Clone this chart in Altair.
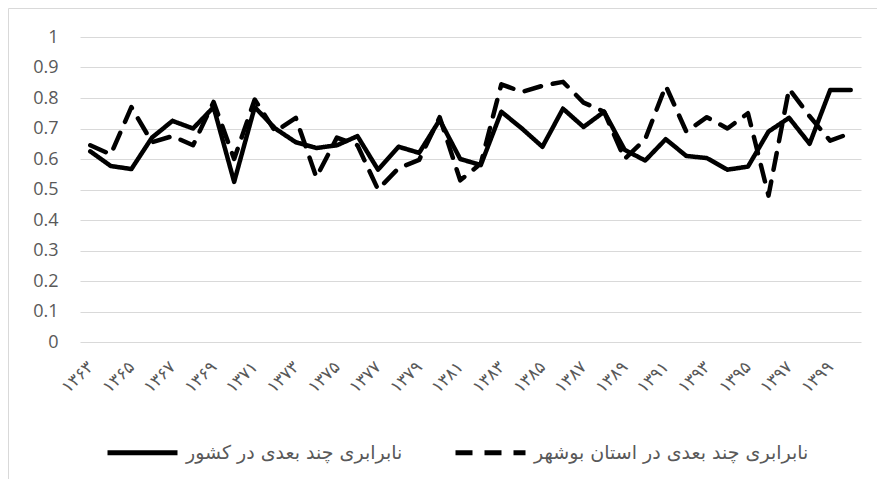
import altair as alt
import pandas as pd

years = [1363, 1364, 1365, 1366, 1367, 1368, 1369, 1370, 1371, 1372,
         1373, 1374, 1375, 1376, 1377, 1378, 1379, 1380, 1381, 1382,
         1383, 1384, 1385, 1386, 1387, 1388, 1389, 1390, 1391, 1392,
         1393, 1394, 1395, 1396, 1397, 1398, 1399, 1400]

national = [0.625, 0.577, 0.567, 0.67, 0.725, 0.70, 0.77, 0.525, 0.77, 0.70,
            0.655, 0.636, 0.645, 0.675, 0.565, 0.64, 0.62, 0.728, 0.60, 0.58,
            0.755, 0.70, 0.64, 0.765, 0.705, 0.755, 0.63, 0.595, 0.665, 0.61,
            0.603, 0.565, 0.575, 0.69, 0.735, 0.65, 0.826, 0.826]

bushehr = [0.645, 0.615, 0.77, 0.655, 0.675, 0.645, 0.787, 0.60, 0.795, 0.69,
           0.735, 0.54, 0.67, 0.645, 0.50, 0.57, 0.597, 0.737, 0.53, 0.585,
           0.845, 0.82, 0.84, 0.853, 0.785, 0.755, 0.60, 0.665, 0.84, 0.69,
           0.737, 0.70, 0.75, 0.48, 0.83, 0.74, 0.66, 0.685]

y_ticks = [0, 0.1, 0.2, 0.3, 0.4, 0.5, 0.6, 0.7, 0.8, 0.9, 1]

s1 = "نابرابری چند بعدی در کشور"
s2 = "نابرابری چند بعدی در استان بوشهر"

fa = str.maketrans("0123456789", "۰۱۲۳۴۵۶۷۸۹")
cats = [str(y).translate(fa) for y in years]
label_cats = cats[::2]

n = len(years)
df = pd.DataFrame({
    "year": cats + cats,
    "value": national + bushehr,
    "series": [s1] * n + [s2] * n,
})

W, H = 781, 305
GREY = "#595959"

lines = alt.Chart(df).mark_line(
    strokeWidth=4.5, strokeJoin="round", strokeCap="round", color="black"
).encode(
    x=alt.X("year:N", sort=cats,
            scale=alt.Scale(type="point", padding=0.5),
            axis=alt.Axis(values=label_cats, labelAngle=-45, labelAlign="right",
                          labelBaseline="middle", labelFont="DejaVu Sans",
                          labelFontSize=17, labelColor=GREY, ticks=False, domain=False,
                          grid=False, title=None, labelPadding=22)),
    y=alt.Y("value:Q", scale=alt.Scale(domain=[0, 1], nice=False),
            axis=alt.Axis(values=y_ticks, format="~g", labelFont="Open Sans",
                          labelFontSize=18, labelColor=GREY, ticks=False, domain=False,
                          grid=True, gridColor="#d9d9d9", gridWidth=1.2,
                          title=None, labelPadding=22)),
    strokeDash=alt.StrokeDash(
        "series:N",
        scale=alt.Scale(domain=[s1, s2], range=[[1, 0], [17, 12]]),
        legend=alt.Legend(orient="none", legendX=25, legendY=378, direction="horizontal",
                          title=None, symbolType="stroke", symbolSize=4900,
                          symbolStrokeWidth=5, symbolStrokeColor="black",
                          labelFont="DejaVu Sans", labelFontSize=19, labelColor=GREY,
                          columnPadding=42, labelOffset=6, labelLimit=500),
    ),
)

frame = alt.Chart(pd.DataFrame({"a": [0]})).mark_rect(
    fill="transparent", stroke="#d9d9d9", strokeWidth=1
).encode(
    x=alt.value(-71.5), x2=alt.value(1500), y=alt.value(-28.5), y2=alt.value(1000)
)

chart = alt.layer(frame, lines).properties(
    width=W, height=H,
    padding={"left": 72, "top": 29, "right": 16, "bottom": 137},
    autosize=alt.AutoSizeParams(type="none"),
).configure_view(stroke="transparent")

chart.save("out.html", embed_options={"renderer": "svg", "actions": False})
